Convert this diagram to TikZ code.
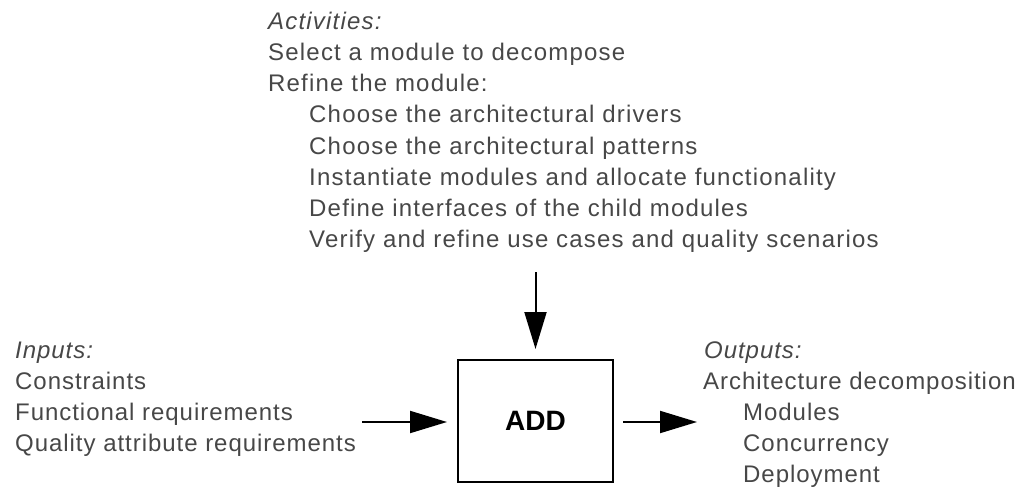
\documentclass[tikz,border=0pt]{standalone}
\usepackage{fontspec}
\setmainfont{Liberation Sans}
\newfontfamily\lblfont{Liberation Sans}[LetterSpace=4.0]
\newfontfamily\actfont{Liberation Sans}[LetterSpace=5.0]
\usetikzlibrary{arrows.meta}
\definecolor{txtgray}{gray}{0.28}
\begin{document}
\begin{tikzpicture}[x=1pt,y=-1pt,
  lbl/.style={anchor=base west,inner sep=0pt,text=txtgray,
    font=\lblfont\fontsize{24pt}{31pt}\selectfont},
  hdr/.style={lbl,font=\lblfont\itshape\fontsize{24pt}{31pt}\selectfont},
  actlbl/.style={lbl,font=\actfont\fontsize{24pt}{31pt}\selectfont},
  acthdr/.style={lbl,font=\actfont\itshape\fontsize{24pt}{31pt}\selectfont},
  flow/.style={line width=2pt,-{Triangle[length=37pt,width=22pt]}},
  procbox/.style={draw,line width=2pt,minimum width=155pt,minimum height=122pt,
    inner sep=0pt,font=\bfseries\fontsize{28pt}{32pt}\selectfont}]
\useasboundingbox (0,0) rectangle (1021,487);

% activities
\node[acthdr] (acth) at (268,30) {Activities:};
\node[actlbl] (act1) at (268,61) {Select a module to decompose};
\node[actlbl] (act2) at (268,92) {Refine the module:};
\node[actlbl] (act3) at (309,123) {Choose the architectural drivers};
\node[actlbl] (act4) at (309,154) {Choose the architectural patterns};
\node[actlbl] (act5) at (309,185) {Instantiate modules and allocate functionality};
\node[actlbl] (act6) at (309,216) {Define interfaces of the child modules};
\node[actlbl] (act7) at (309,247) {Verify and refine use cases and quality scenarios};

% inputs
\node[hdr] (inh) at (15,358) {Inputs:};
\node[lbl] (in1) at (15,389) {Constraints};
\node[lbl] (in2) at (15,420) {Functional requirements};
\node[lbl] (in3) at (15,451) {Quality attribute requirements};

% outputs
\node[hdr] (outh) at (704,358) {Outputs:};
\node[lbl] (out1) at (703,389) {Architecture decomposition};
\node[lbl] (out2) at (743,420) {Modules};
\node[lbl] (out3) at (743,451) {Concurrency};
\node[lbl] (out4) at (743,482) {Deployment};

% the ADD process box
\node[procbox] (add) at (535.5,421) {ADD};

% connectors
\coordinate (acttail) at (add.north |- 0,272);
\coordinate (intail) at (362,422);
\coordinate (outtip) at (697,422);
\draw[flow] (acttail) -- ([yshift=10pt]add.north);
\draw[flow] (intail) -- ([xshift=-10pt]add.west |- intail);
\draw[flow] ([xshift=9pt]add.east |- outtip) -- (outtip);
\end{tikzpicture}
\end{document}
